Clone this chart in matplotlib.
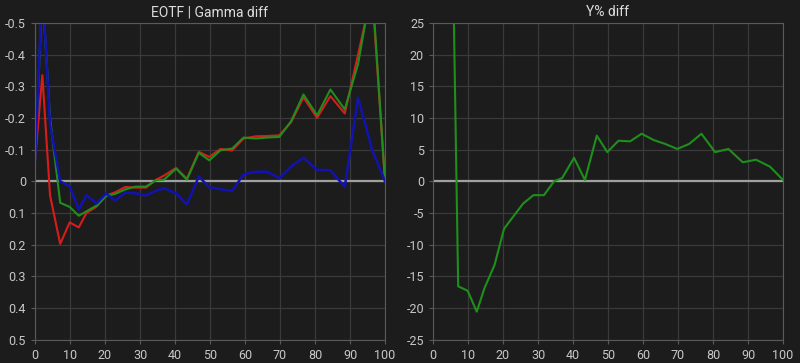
import numpy as np
import matplotlib
matplotlib.use("Agg")
import matplotlib.pyplot as plt
from matplotlib.ticker import FuncFormatter

plt.rcParams['font.family'] = ['Roboto', 'DejaVu Sans']

# stimulus levels (%)
x = [0, 2.1, 4.3, 7.2, 9.9, 12.5, 14.7, 17.6, 20.3, 22.9, 25.8, 28.7, 31.7,
     34.6, 36.9, 40.3, 43.4, 46.8, 49.8, 53.0, 56.3, 59.6, 63.1, 66.3, 69.8,
     73.2, 76.7, 80.6, 84.4, 88.5, 92.3, 96.3, 100]

# gamma diff per channel
red = [-0.065, -0.335, 0.045, 0.198, 0.13, 0.146, 0.10, 0.08, 0.045, 0.035,
       0.018, 0.02, 0.02, -0.005, -0.018, -0.042, -0.008, -0.093, -0.077,
       -0.102, -0.097, -0.135, -0.142, -0.143, -0.145, -0.187, -0.265, -0.2,
       -0.269, -0.214, -0.4, -0.6, 0.0]
green = [-0.065, -0.6, -0.2, 0.068, 0.081, 0.109, 0.095, 0.077, 0.047, 0.04,
         0.026, 0.017, 0.017, -0.003, -0.005, -0.04, -0.005, -0.09, -0.066,
         -0.098, -0.103, -0.138, -0.135, -0.138, -0.14, -0.19, -0.274, -0.208,
         -0.29, -0.227, -0.37, -0.62, 0.0]
blue = [-0.065, -0.62, -0.18, 0.0, 0.016, 0.09, 0.044, 0.07, 0.039, 0.061,
        0.036, 0.038, 0.045, 0.03, 0.022, 0.038, 0.074, -0.015, 0.019, 0.025,
        0.031, -0.022, -0.03, -0.03, -0.01, -0.047, -0.074, -0.036, -0.035,
        0.018, -0.264, -0.1, 0.0]

# luminance diff (%)
y_diff = [np.nan, 300, 82, -16.6, -17.3, -20.6, -16.9, -13.2, -7.5, -5.6,
          -3.5, -2.2, -2.2, 0.0, 0.5, 3.7, 0.2, 7.2, 4.6, 6.4, 6.3, 7.5, 6.5,
          5.9, 5.1, 5.9, 7.5, 4.6, 5.1, 3.0, 3.4, 2.3, 0.2]

BG = '#1c1c1c'
GRID = '#3a3a3a'
SPINE = '#5a5a5a'
TXT = '#c8c8c8'

fig = plt.figure(figsize=(8, 3.63), dpi=100, facecolor=BG)
ax1 = fig.add_axes([0.04375, 0.0647, 0.4375, 0.872])
ax2 = fig.add_axes([0.54125, 0.0647, 0.4375, 0.872])


def style(ax, title):
    ax.set_facecolor(BG)
    for s in ax.spines.values():
        s.set_color(SPINE)
    ax.grid(True, color=GRID, linewidth=0.9)
    ax.set_axisbelow(True)
    ax.tick_params(colors=SPINE, labelcolor=TXT, labelsize=9, length=3)
    ax.set_title(title, color='#dcdcdc', fontsize=10, pad=5)
    ax.set_xlim(0, 100)
    ax.set_xticks(range(0, 101, 10))


def fmt(v, pos):
    if abs(v) < 1e-9:
        return '0'
    return ('%g' % round(v, 2))


style(ax1, 'EOTF | Gamma diff')
ax1.axhline(0, color='#a0a0a0', linewidth=1.6, zorder=1.5)
ax1.plot(x, red, color='#d81c1c', linewidth=1.5)
ax1.plot(x, green, color='#1f8f1c', linewidth=1.5)
ax1.plot(x, blue, color='#1212b0', linewidth=1.8)
ax1.set_ylim(0.5, -0.5)
ax1.set_yticks(np.round(np.arange(-0.5, 0.51, 0.1), 1))
ax1.yaxis.set_major_formatter(FuncFormatter(fmt))

style(ax2, 'Y% diff')
ax2.axhline(0, color='#a0a0a0', linewidth=1.6, zorder=1.5)
ax2.plot(x, y_diff, color='#1f8f1c', linewidth=1.5)
ax2.set_ylim(-25, 25)
ax2.set_yticks(range(-25, 26, 5))
ax2.yaxis.set_major_formatter(FuncFormatter(fmt))

fig.savefig('out.png', dpi=100, facecolor=BG)
